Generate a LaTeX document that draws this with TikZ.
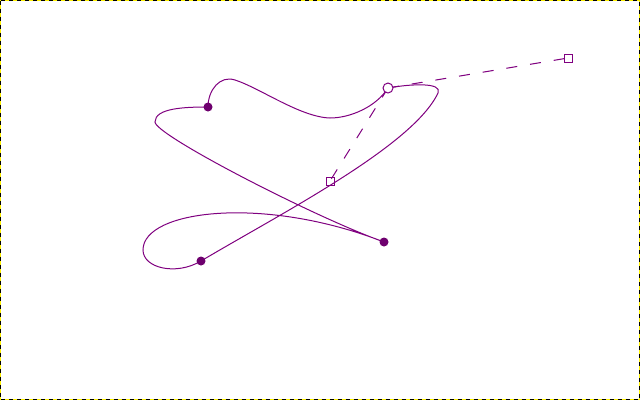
\documentclass[tikz,border=0pt]{standalone}
\begin{document}
\begin{tikzpicture}[x=1pt,y=-1pt,
  curve/.style={draw=pathpurple,line width=1pt},
  handleline/.style={draw=pathpurple,line width=1pt,dash pattern=on 11pt off 13pt},
  anchordot/.style={circle,fill=dotpurple,inner sep=0pt,minimum size=9pt},
  selanchor/.style={circle,draw=pathpurple,fill=white,line width=1pt,inner sep=0pt,minimum size=10pt},
  handlebox/.style={rectangle,draw=pathpurple,line width=1pt,inner sep=0pt,minimum size=8pt}]
\definecolor{pathpurple}{RGB}{128,0,128}
\definecolor{dotpurple}{RGB}{110,0,110}
\useasboundingbox (0,0) rectangle (640,400);
\fill[white] (0,0) rectangle (640,400);
\draw[yellow,line width=1pt] (0.5,0.5) rectangle (639.5,399.5);
\draw[black,line width=1pt,dash pattern=on 4pt off 4pt] (0.5,0.5) rectangle (639.5,399.5);
\coordinate (p1) at (384,242);
\coordinate (p2) at (201,261);
\coordinate (p3) at (208,107);
\coordinate (p4) at (388,88);
\coordinate (h1) at (330,181);
\coordinate (h2) at (568,58);
\draw[curve] (p1) .. controls (264,195) and (143,210) .. (143,250)
  .. controls (143,268) and (176,276) .. (p2)
  .. controls (280,214) and (413,146) .. (438,93)
  .. controls (443,82) and (410,84) .. (p4)
  .. controls (376,107) and (350,118) .. (330,118)
  .. controls (300,117) and (260,88) .. (235,80)
  .. controls (220,75) and (208,90) .. (p3)
  .. controls (185,107) and (155,108) .. (155,122)
  .. controls (155,135) and (314,217) .. (p1);
\draw[handleline] (p4) -- (h1);
\draw[handleline] (p4) -- (h2);
\node[anchordot] (a1) at (p1) {};
\node[anchordot] (a2) at (p2) {};
\node[anchordot] (a3) at (p3) {};
\node[selanchor] (a4) at (p4) {};
\node[handlebox] (b1) at (h1) {};
\node[handlebox] (b2) at (h2) {};
\end{tikzpicture}
\end{document}
